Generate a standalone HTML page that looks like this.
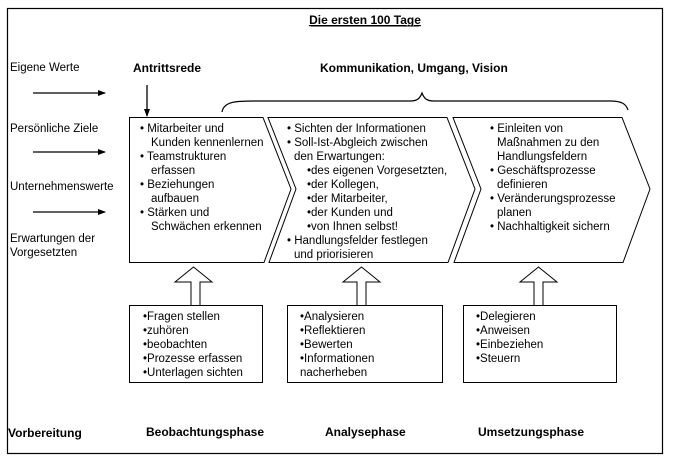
<!DOCTYPE html>
<html><head><meta charset="utf-8"><style>
html,body{margin:0;padding:0;background:#fff;}
svg{display:block;font-family:"Liberation Sans",Arial,sans-serif;}
text{fill:#000;}
.s{font-size:11.5px;}
.b{font-size:12px;font-weight:bold;}
</style></head><body>
<svg width="674" height="460" viewBox="0 0 674 460" xmlns="http://www.w3.org/2000/svg">
<defs><marker id="ah" markerWidth="8" markerHeight="8" refX="7" refY="4" orient="auto" markerUnits="userSpaceOnUse"><path d="M0,1 L8,4 L0,7 Z" fill="#000"/></marker></defs>
<rect x="7.5" y="8.5" width="655" height="445" fill="none" stroke="#000" stroke-width="1.2"/>
<text x="365" y="24" text-anchor="middle" class="b" text-decoration="underline">Die ersten 100 Tage</text>
<line x1="311" y1="26" x2="419" y2="26" stroke="#000" stroke-width="1"/>
<text x="10" y="71" class="s">Eigene Werte</text>
<text x="10" y="132" class="s">Persönliche Ziele</text>
<text x="10" y="190" class="s">Unternehmenswerte</text>
<text x="10" y="242" class="s">Erwartungen der</text>
<text x="10" y="256" class="s">Vorgesetzten</text>
<g stroke="#000" stroke-width="1.3">
<line x1="33" y1="93" x2="105" y2="93" marker-end="url(#ah)"/>
<line x1="33" y1="152" x2="105" y2="152" marker-end="url(#ah)"/>
<line x1="33" y1="212" x2="105" y2="212" marker-end="url(#ah)"/>
<line x1="147" y1="85" x2="147" y2="116" marker-end="url(#ah)"/>
</g>
<text x="133" y="72" class="b">Antrittsrede</text>
<text x="320" y="72" class="b">Kommunikation, Umgang, Vision</text>
<path d="M222,112 C224,100 240,101 260,101 L410,101 C418,101 420,98 422,93 C424,98 426,101 434,101 L610,101 C622,101 626,104 628,110" fill="none" stroke="#000" stroke-width="1.2"/>
<g fill="#fff" stroke="#000" stroke-width="1">
<path d="M129.5,117.5 L263,117.5 L291,189 L264,262.5 L129.5,262.5 Z"/>
<path d="M268,117.5 L447,117.5 L475,189 L448,262.5 L269,262.5 L296,189 Z"/>
<path d="M453,117.5 L622,117.5 L650,189 L623,262.5 L454,262.5 L481,189 Z"/>
</g>
<g class="s">
<text x="140" y="132">• Mitarbeiter und</text>
<text x="151" y="146">Kunden kennenlernen</text>
<text x="140" y="160">• Teamstrukturen</text>
<text x="151" y="174">erfassen</text>
<text x="140" y="188">• Beziehungen</text>
<text x="151" y="202">aufbauen</text>
<text x="140" y="216">• Stärken und</text>
<text x="151" y="230">Schwächen erkennen</text>

<text x="287" y="132">• Sichten der Informationen</text>
<text x="287" y="146">• Soll-Ist-Abgleich zwischen</text>
<text x="294" y="160">den Erwartungen:</text>
<text x="307" y="174">•des eigenen Vorgesetzten,</text>
<text x="307" y="188">•der Kollegen,</text>
<text x="307" y="202">•der Mitarbeiter,</text>
<text x="307" y="216">•der Kunden und</text>
<text x="307" y="230">•von Ihnen selbst!</text>
<text x="287" y="244">• Handlungsfelder festlegen</text>
<text x="294" y="258">und priorisieren</text>

<text x="490" y="132">• Einleiten von</text>
<text x="497" y="146">Maßnahmen zu den</text>
<text x="497" y="160">Handlungsfeldern</text>
<text x="490" y="174">• Geschäftsprozesse</text>
<text x="497" y="188">definieren</text>
<text x="490" y="202">• Veränderungsprozesse</text>
<text x="497" y="216">planen</text>
<text x="490" y="230">• Nachhaltigkeit sichern</text>
</g>
<g fill="#fff" stroke="#000" stroke-width="1">
<path d="M191,305 L191,282 L175,282 L193.5,267 L212,282 L200,282 L200,305"/>
<path d="M357,305 L357,282 L343,282 L361.5,267 L380,282 L366,282 L366,305"/>
<path d="M534,305 L534,282 L520,282 L538.5,267 L557,282 L543,282 L543,305"/>
<rect x="129.5" y="305.5" width="133" height="77"/>
<rect x="287.5" y="305.5" width="155" height="77"/>
<rect x="463.5" y="305.5" width="153" height="77"/>
</g>
<g class="s">
<text x="143" y="320">•Fragen stellen</text>
<text x="143" y="334">•zuhören</text>
<text x="143" y="348">•beobachten</text>
<text x="143" y="362">•Prozesse erfassen</text>
<text x="143" y="376">•Unterlagen sichten</text>
<text x="300" y="320">•Analysieren</text>
<text x="300" y="334">•Reflektieren</text>
<text x="300" y="348">•Bewerten</text>
<text x="300" y="362">•Informationen</text>
<text x="300" y="376">nacherheben</text>
<text x="476" y="320">•Delegieren</text>
<text x="476" y="334">•Anweisen</text>
<text x="476" y="348">•Einbeziehen</text>
<text x="476" y="362">•Steuern</text>
</g>
<text x="8" y="437" class="b">Vorbereitung</text>
<text x="146" y="436" class="b">Beobachtungsphase</text>
<text x="325" y="436" class="b">Analysephase</text>
<text x="478" y="436" class="b">Umsetzungsphase</text>
</svg>
</body></html>
